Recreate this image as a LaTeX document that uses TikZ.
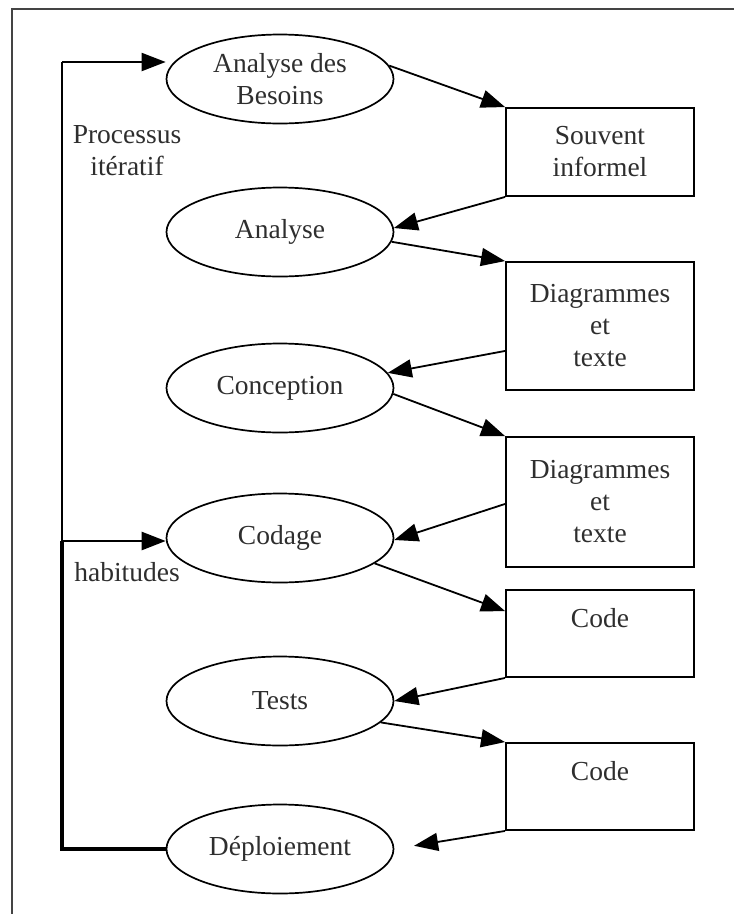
\documentclass[tikz,border=0pt]{standalone}
\usepackage{fontspec}
\setmainfont{Liberation Serif}
\usetikzlibrary{arrows.meta,shapes.geometric,calc}
\definecolor{ink}{HTML}{2E2E2E}
\definecolor{framegray}{HTML}{444444}
\begin{document}
\begin{tikzpicture}[x=1pt,y=-1pt,
  every node/.style={font=\fontsize{27.5}{32}\selectfont, text=ink},
  stage/.style={draw=black, line width=1.7pt, ellipse, minimum width=227pt,
    minimum height=89pt, inner sep=0pt, align=center},
  product/.style={draw=black, line width=1.9pt, rectangle, minimum width=188pt,
    inner sep=0pt, align=center},
  flow/.style={line width=1.8pt, -{Triangle[length=24pt,width=18pt]}},
  loopthin/.style={line width=2.1pt},
  loopthick/.style={line width=3.3pt},
  note/.style={align=center}]
\useasboundingbox (0,0) rectangle (734,914);

% page frame (top and left edges)
\draw[framegray, line width=2.4pt] (12,914) -- (12,9) -- (734,9);

% activities
\node[stage] (besoins)     at (280,79)  {Analyse des\\Besoins};
\node[stage] (analyse)     at (280,232) {Analyse};
\node[stage] (conception)  at (280,388) {Conception};
\node[stage] (codage)      at (280,538) {Codage};
\node[stage] (tests)       at (280,701) {Tests};
\node[stage] (deploiement) at (280,849) {Déploiement};

% deliverables
\node[product, minimum height=88pt]  (informel) at (600,152)   {Souvent\\informel};
\node[product, minimum height=128pt] (diag1)    at (600,326)   {Diagrammes\\et\\texte};
\node[product, minimum height=130pt] (diag2)    at (600,502)   {Diagrammes\\et\\texte};
\node[product, minimum height=87pt]  (code1)    at (600,633.5) {Code\\\mbox{}};
\node[product, minimum height=87pt]  (code2)    at (600,786.5) {Code\\\mbox{}};

% side labels
\node[note] (iteratif) at (127,151) {Processus\\itératif};
\node[note] (habitudes) at (127,572) {habitudes};

% zig-zag flow between activities and deliverables
\draw[flow] (besoins.7) -- (informel.north west);
\draw[flow] (informel.south west) -- (analyse.2);
\draw[flow] (analyse.-5) -- (diag1.north west);
\draw[flow] ($(diag1.south west)+(0,-40)$) -- (conception.8);
\draw[flow] (conception.-3) -- (diag2.north west);
\draw[flow] ($(diag2.south west)+(0,-64)$) -- (codage.-1);
\draw[flow] (codage.-15) -- ($(code1.north west)+(0,22)$);
\draw[flow] (code1.south west) -- (tests.0);
\draw[flow] (tests.-12) -- (code2.north west);
\draw[flow, shorten >=20pt] (code2.south west) -- (deploiement.east);

% feedback loop on the left
\coordinate (looptop) at (62,62);
\coordinate (loopmid) at (62,541);
\draw[loopthin] (looptop) -- (loopmid);
\draw[flow, line width=2.1pt] (looptop) -- (besoins.west |- looptop);
\draw[flow, line width=2.6pt] (loopmid) -- (codage.west |- loopmid);
\draw[loopthick] (deploiement.west) -| (loopmid);
\end{tikzpicture}
\end{document}
